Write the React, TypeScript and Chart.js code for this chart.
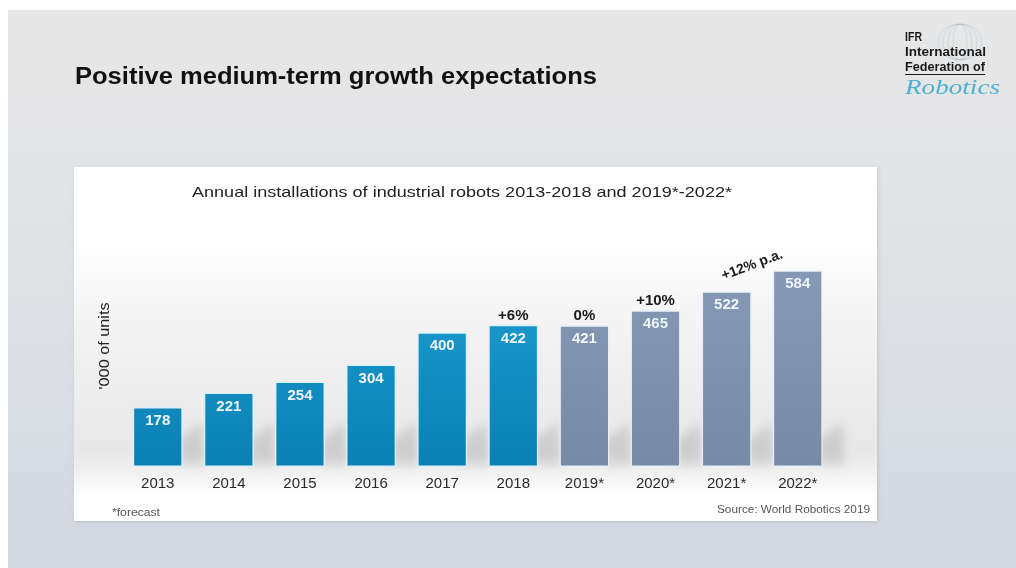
import { useEffect, useRef } from 'react';
import { Chart, registerables } from 'chart.js';
Chart.register(...registerables);

const years = ['2013', '2014', '2015', '2016', '2017', '2018', '2019*', '2020*', '2021*', '2022*'];
const installations = [178, 221, 254, 304, 400, 422, 421, 465, 522, 584];
const growthLabels = ['', '', '', '', '', '+6%', '0%', '+10%', '', ''];
const forecastFlags = [false, false, false, false, false, false, true, true, true, true];
const cagrLabel = '+12% p.a.';

const slideTitle = 'Positive medium-term growth expectations';
const chartTitle = 'Annual installations of industrial robots 2013-2018 and 2019*-2022*';
const yAxisTitle = "'000 of units";
const footnote = '*forecast';
const sourceNote = 'Source: World Robotics 2019';

const W = 1016;
const H = 568;
const SANS = "'Liberation Sans', Arial, sans-serif";

function fitText(ctx: CanvasRenderingContext2D, text: string, x: number, y: number, target: number, align: 'left' | 'center' | 'right') {
  const w = ctx.measureText(text).width;
  const s = target / w;
  ctx.save();
  ctx.translate(x, y);
  ctx.scale(s, 1);
  ctx.textAlign = align;
  ctx.fillText(text, 0, 0);
  ctx.restore();
}

const decorPlugin = {
  id: 'decor',
  beforeDraw(chart: any) {
    const ctx: CanvasRenderingContext2D = chart.ctx;
    ctx.save();
    ctx.fillStyle = '#ffffff';
    ctx.fillRect(0, 0, W, H);
    const bg = ctx.createLinearGradient(0, 10, 0, H);
    bg.addColorStop(0, '#e7e7e7');
    bg.addColorStop(0.5, '#dfe1e5');
    bg.addColorStop(1, '#d1d8e2');
    ctx.fillStyle = bg;
    ctx.fillRect(8, 10, W - 8, H - 10);

    // slide title
    ctx.fillStyle = '#111111';
    ctx.font = `bold 23px ${SANS}`;
    ctx.textBaseline = 'middle';
    fitText(ctx, slideTitle, 75, 78, 522, 'left');

    // logo
    ctx.strokeStyle = 'rgba(120,165,195,0.22)';
    ctx.lineWidth = 1;
    for (let i = 0; i < 4; i++) {
      ctx.beginPath();
      ctx.ellipse(960, 42, 22 - i * 5, 18, 0, 0, Math.PI * 2);
      ctx.stroke();
    }
    ctx.fillStyle = '#1a1a1a';
    ctx.font = `bold 12px ${SANS}`;
    ctx.textBaseline = 'middle';
    fitText(ctx, 'IFR', 905, 38, 17, 'left');
    fitText(ctx, 'International', 905, 53, 81, 'left');
    fitText(ctx, 'Federation of', 905, 68, 80, 'left');
    ctx.fillRect(905, 74, 80, 1);
    ctx.fillStyle = '#4fb0d3';
    ctx.font = `italic 22px 'Liberation Serif', serif`;
    fitText(ctx, 'Robotics', 905, 88, 95, 'left');

    // white panel with shadow
    ctx.save();
    ctx.shadowColor = 'rgba(0,0,0,0.12)';
    ctx.shadowBlur = 4;
    ctx.shadowOffsetX = 1;
    ctx.shadowOffsetY = 1;
    ctx.fillStyle = '#ffffff';
    ctx.fillRect(74, 167, 803, 354);
    ctx.restore();
    const pg = ctx.createLinearGradient(0, 167, 0, 521);
    pg.addColorStop(0, '#ffffff');
    pg.addColorStop(0.2, '#ffffff');
    pg.addColorStop(0.45, '#f3f3f3');
    pg.addColorStop(0.8, '#e8e8e9');
    pg.addColorStop(0.87, '#f2f2f2');
    pg.addColorStop(0.93, '#ffffff');
    pg.addColorStop(1, '#ffffff');
    ctx.fillStyle = pg;
    ctx.fillRect(74, 167, 803, 354);

    // chart title
    ctx.fillStyle = '#222222';
    ctx.font = `15px ${SANS}`;
    ctx.textBaseline = 'middle';
    fitText(ctx, chartTitle, 462, 193, 540, 'center');

    // y axis title
    ctx.save();
    ctx.translate(105, 346);
    ctx.rotate(-Math.PI / 2);
    ctx.font = `14px ${SANS}`;
    ctx.fillStyle = '#222222';
    fitText(ctx, yAxisTitle, 0, 0, 87, 'center');
    ctx.restore();

    // footer
    ctx.font = `11px ${SANS}`;
    ctx.fillStyle = '#555555';
    fitText(ctx, footnote, 112, 513, 48, 'left');
    fitText(ctx, sourceNote, 870, 510, 153, 'right');
    ctx.restore();
  },
  beforeDatasetsDraw(chart: any) {
    const ctx: CanvasRenderingContext2D = chart.ctx;
    const meta = chart.getDatasetMeta(0);
    ctx.save();
    ctx.filter = 'blur(5px)';
    ctx.fillStyle = 'rgba(70,70,70,0.16)';
    meta.data.forEach((bar: any) => {
      const r = bar.x + bar.width / 2;
      const b = bar.base;
      ctx.beginPath();
      ctx.moveTo(r - 4, b - 2);
      ctx.lineTo(r - 4, b - 28);
      ctx.lineTo(r + 20, b - 44);
      ctx.lineTo(r + 22, b - 2);
      ctx.closePath();
      ctx.fill();
    });
    ctx.restore();
  },
  afterDatasetsDraw(chart: any) {
    const ctx: CanvasRenderingContext2D = chart.ctx;
    const meta = chart.getDatasetMeta(0);
    ctx.save();
    ctx.textAlign = 'center';
    ctx.textBaseline = 'middle';
    meta.data.forEach((bar: any, i: number) => {
      ctx.font = `bold 15px ${SANS}`;
      ctx.fillStyle = '#eef6fb';
      ctx.fillText(String(installations[i]), bar.x, bar.y + 14);
      if (growthLabels[i]) {
        ctx.fillStyle = '#1a1a1a';
        ctx.fillText(growthLabels[i], bar.x, bar.y - 9);
      }
    });
    const a = meta.data[8];
    const b = meta.data[9];
    ctx.save();
    ctx.translate((a.x + b.x) / 2 - 10, Math.min(a.y, b.y) - 5);
    ctx.rotate(-20.5 * Math.PI / 180);
    ctx.font = `bold 14px ${SANS}`;
    ctx.fillStyle = '#1a1a1a';
    ctx.fillText(cagrLabel, 0, 0);
    ctx.restore();
    ctx.restore();
  },
};

export default function App() {
  const ref = useRef<HTMLCanvasElement>(null);
  useEffect(() => {
    const canvas = ref.current!;
    const ctx = canvas.getContext('2d')!;
    const blue = ctx.createLinearGradient(0, 260, 0, 467);
    blue.addColorStop(0, '#1d9fd5');
    blue.addColorStop(1, '#0b80b2');
    const grey = ctx.createLinearGradient(0, 260, 0, 467);
    grey.addColorStop(0, '#8699b6');
    grey.addColorStop(1, '#778aa7');
    const chart = new Chart(canvas, {
      type: 'bar',
      data: {
        labels: years,
        datasets: [
          {
            data: installations,
            backgroundColor: forecastFlags.map((f) => (f ? grey : blue)),
            borderColor: forecastFlags.map((f) => (f ? 'rgba(232,238,246,0.9)' : 'rgba(215,240,250,0.95)')),
            borderWidth: 1.5,
            borderSkipped: false,
            barPercentage: 0.705,
            categoryPercentage: 1,
          },
        ],
      },
      options: {
        animation: false,
        responsive: false,
        devicePixelRatio: 1,
        layout: { padding: { left: 122.2, right: W - 833.3, top: 248, bottom: 75 } },
        plugins: { legend: { display: false }, tooltip: { enabled: false }, title: { display: false } },
        scales: {
          x: {
            grid: { display: false, drawTicks: false },
            border: { display: false },
            ticks: { color: '#2a2a2a', padding: 8, font: { family: SANS, size: 15 } },
            afterFit: (scale: any) => {
              scale.height = 26;
            },
          },
          y: { display: false, min: 0, max: 650 },
        },
      },
      plugins: [decorPlugin],
    });
    return () => chart.destroy();
  }, []);
  return (
    <div style={{ position: 'fixed', left: 0, top: 0, width: W, height: H }}>
      <canvas ref={ref} width={W} height={H} style={{ display: 'block', width: W, height: H }} />
    </div>
  );
}
